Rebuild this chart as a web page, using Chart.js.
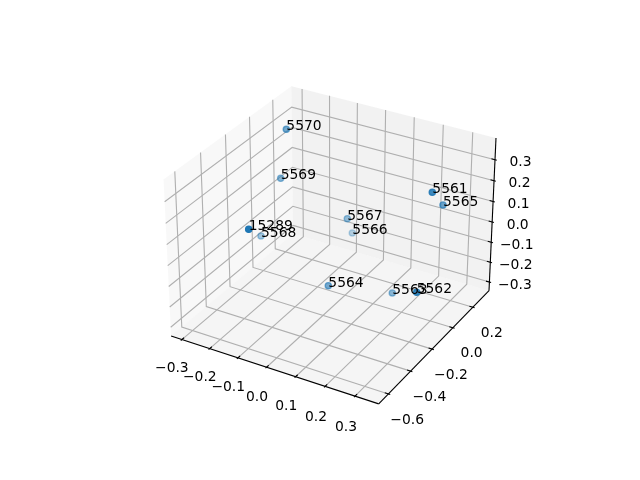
<!DOCTYPE html>
<html><head><meta charset="utf-8">
<style>html,body{margin:0;padding:0;background:#fff}canvas{display:block}</style>
<script src="https://cdn.jsdelivr.net/npm/chart.js@4"></script></head><body>
<canvas id="c" width="640" height="480"></canvas>
<script>
const labels=["5561","5562","5563","5564","5565","5566","5567","5568","5569","5570","15289"];
const xs=[0.301,0.3451,0.14,0.0023,0.2635,-0.096,-0.0599,-0.3066,-0.2503,-0.2232,-0.0723];
const ys=[-0.0174,-0.2673,0.0749,-0.1581,0.2007,0.3149,0.1732,0.0007,0.0483,0.0381,-0.636];
const zs=[0.2871,-0.0472,-0.3105,-0.2153,0.114,-0.2192,-0.0663,-0.1702,0.1171,0.3675,0.255];
const xTicks=[-0.3,-0.2,-0.1,0,0.1,0.2,0.3];
const yTicks=[-0.6,-0.4,-0.2,0,0.2];
const zTicks=[-0.3,-0.2,-0.1,0,0.1,0.2,0.3];
const xLim=[-0.339,0.378],yLim=[-0.685,0.3657],zLim=[-0.3438,0.402];

const FONT='13.89px "DejaVu Sans"';
const n=Math.hypot(4,4,3),k=1.8294640721620434*25/24/n,box=[4*k,4*k,3*k],cen=box.map(v=>v/2);
const u=[Math.sqrt(3)/2,0.5,0],v=[-0.25,Math.sqrt(3)/4,Math.sqrt(3)/2],w=[Math.sqrt(3)/4,-0.75,0.5];
const dot=(a,b)=>a[0]*b[0]+a[1]*b[1]+a[2]*b[2];
function project(x,y,z){
  const p=[(x-xLim[0])/(xLim[1]-xLim[0])*box[0]-cen[0],(y-yLim[0])/(yLim[1]-yLim[0])*box[1]-cen[1],(z-zLim[0])/(zLim[1]-zLim[0])*box[2]-cen[2]];
  const depth=10-dot(w,p);
  return {x:dot(u,p)/depth,y:dot(v,p)/depth,depth};
}
const pts=labels.map((l,i)=>project(xs[i],ys[i],zs[i]));
const dmin=Math.min(...pts.map(p=>p.depth)),dmax=Math.max(...pts.map(p=>p.depth));
const alphas=pts.map(p=>1-0.7*(p.depth-dmin)/(dmax-dmin));
const fills=alphas.map(a=>`rgba(31,119,180,${a.toFixed(3)})`);

const fmt=t=>t.toFixed(1).replace('-','\u2212');
const frame={id:'frame',
  beforeDatasetsDraw(chart){
    const c=chart.ctx,sx=chart.scales.x,sy=chart.scales.y;
    const P=(x,y,z)=>{const q=project(x,y,z);return [sx.getPixelForValue(q.x),sy.getPixelForValue(q.y)];};
    const [x0,x1]=xLim,[y0,y1]=yLim,[z0,z1]=zLim;
    const poly=(ps,col)=>{c.beginPath();ps.forEach((q,i)=>i?c.lineTo(...q):c.moveTo(...q));c.closePath();c.fillStyle=col;c.fill();};
    const line=(ps,col,lw)=>{c.beginPath();ps.forEach((q,i)=>i?c.lineTo(...q):c.moveTo(...q));c.strokeStyle=col;c.lineWidth=lw;c.stroke();};
    c.save();
    poly([P(x0,y0,z0),P(x0,y1,z0),P(x0,y1,z1),P(x0,y0,z1)],'rgba(242,242,242,0.5)');
    poly([P(x0,y1,z0),P(x1,y1,z0),P(x1,y1,z1),P(x0,y1,z1)],'rgba(230,230,230,0.5)');
    poly([P(x0,y0,z0),P(x1,y0,z0),P(x1,y1,z0),P(x0,y1,z0)],'rgba(236,236,236,0.5)');
    const G='#b0b0b0',LW=1.11;
    xTicks.forEach(t=>line([P(t,y0,z0),P(t,y1,z0),P(t,y1,z1)],G,LW));
    yTicks.forEach(t=>line([P(x0,t,z1),P(x0,t,z0),P(x1,t,z0)],G,LW));
    zTicks.forEach(t=>line([P(x0,y0,t),P(x0,y1,t),P(x1,y1,t)],G,LW));
    line([P(x0,y0,z0),P(x1,y0,z0)],'#000',LW);
    line([P(x1,y0,z0),P(x1,y1,z0)],'#000',LW);
    line([P(x1,y1,z0),P(x1,y1,z1)],'#000',LW);
    const dx=(x1-x0)/12,dy=(y1-y0)/12;
    xTicks.forEach(t=>line([P(t,y0-0.1*dy,z0),P(t,y0+0.2*dy,z0)],'#000',LW));
    yTicks.forEach(t=>line([P(x1+0.1*dx,t,z0),P(x1-0.2*dx,t,z0)],'#000',LW));
    zTicks.forEach(t=>line([P(x1+0.1*dx,y1,t),P(x1-0.2*dx,y1,t)],'#000',LW));
    c.font=FONT;c.fillStyle='#000';c.textAlign='center';c.textBaseline='middle';
    xTicks.forEach(t=>{const q=P(t,y0,z0),f=(t+0.3)/0.6;c.fillText(fmt(t),q[0]-10+1*f,q[1]+28.5+2.5*f);});
    yTicks.forEach(t=>{const q=P(x1,t,z0);c.fillText(fmt(t),q[0]+18.8,q[1]+26);});
    zTicks.forEach(t=>{const q=P(x1,y1,t);c.fillText(fmt(t),q[0]+25.5,q[1]+3);});
    c.restore();
  },
  afterDatasetsDraw(chart){
    const c=chart.ctx,sx=chart.scales.x,sy=chart.scales.y;
    c.save();c.font=FONT;c.fillStyle='#000';c.textAlign='left';c.textBaseline='alphabetic';
    labels.forEach((l,i)=>c.fillText(l,sx.getPixelForValue(pts[i].x),sy.getPixelForValue(pts[i].y)+1));
    c.restore();
  }};
new Chart(document.getElementById('c'),{type:'scatter',
  data:{datasets:[{data:pts.map(p=>({x:p.x,y:p.y})),backgroundColor:fills,borderColor:fills,borderWidth:1.39,pointRadius:3.1,clip:false}]},
  options:{responsive:false,animation:false,events:[],
    layout:{padding:{left:143.2,right:127.2,top:57.6,bottom:52.8}},
    plugins:{legend:{display:false},tooltip:{enabled:false}},
    scales:{x:{type:'linear',min:-0.095,max:0.09,display:false},y:{type:'linear',min:-0.095,max:0.09,display:false}}},
  plugins:[frame]});
</script></body></html>
